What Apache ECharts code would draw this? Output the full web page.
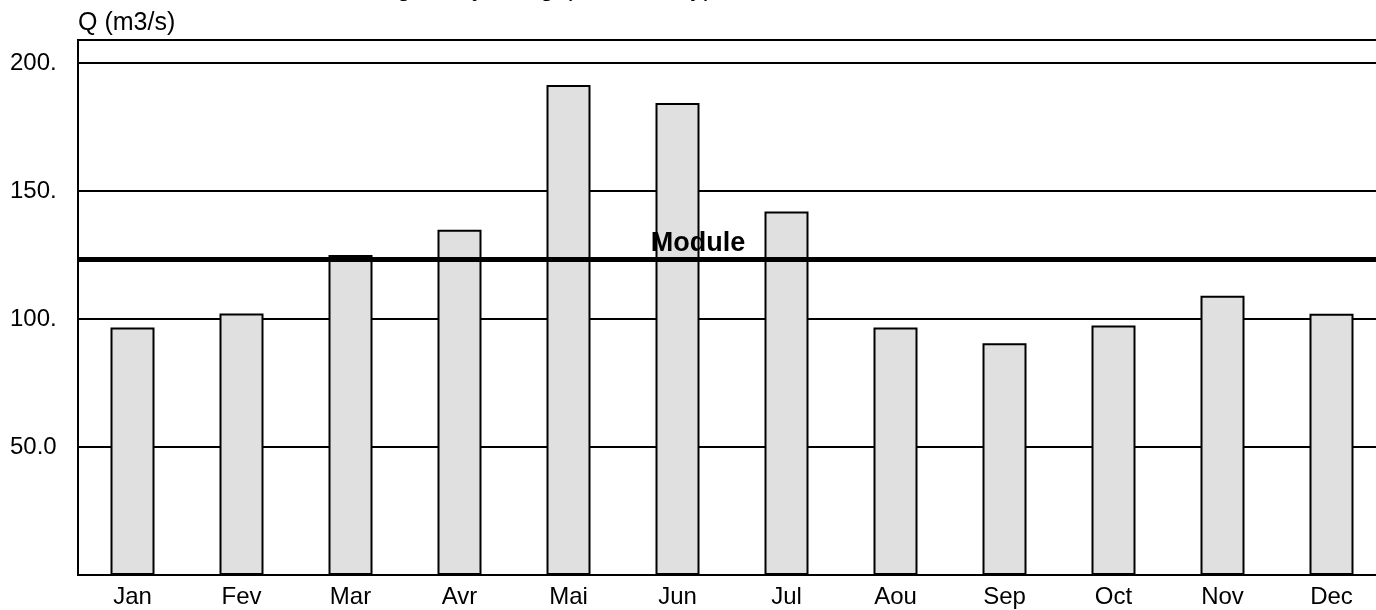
<!DOCTYPE html>
<html>
<head>
<meta charset="utf-8">
<script src="https://cdn.jsdelivr.net/npm/echarts@6/dist/echarts.min.js"></script>
<style>
html,body{margin:0;padding:0;background:#fff;}
#chart{width:1376px;height:610px;}
</style>
</head>
<body>
<div id="chart"></div>
<script>
const titleText = 'Le régime hydrologique est de type nival de transition';
const yAxisName = 'Q (m3/s)';
const months = ['Jan','Fev','Mar','Avr','Mai','Jun','Jul','Aou','Sep','Oct','Nov','Dec'];
const flows = [96.7, 102.2, 125.0, 134.9, 191.4, 184.4, 142.0, 96.7, 90.5, 97.5, 109.1, 102.1];
const moduleValue = 123.2;
const moduleLabel = 'Module';
const yTickValues = [50, 100, 150, 200];
const yTickLabels = ['50.0', '100.', '150.', '200.'];

const FONT = '"Liberation Sans", Arial, Helvetica, sans-serif';
const chart = echarts.init(document.getElementById('chart'), null, {renderer: 'canvas'});
chart.setOption({
  animation: false,
  backgroundColor: '#fff',
  textStyle: {fontFamily: FONT},
  graphic: [{
    type: 'text',
    x: 340,
    y: -23,
    style: {text: titleText, font: '25px ' + FONT, fill: '#000'}
  }],
  grid: {
    left: 78, width: 1308, top: 40, bottom: 35,
    outerBoundsMode: 'none',
    containLabel: false,
    show: true, borderColor: '#000', borderWidth: 2, backgroundColor: 'transparent'
  },
  xAxis: {
    type: 'category',
    data: months,
    axisLine: {lineStyle: {color: '#000', width: 2}},
    axisTick: {show: false},
    axisLabel: {color: '#000', fontSize: 24, fontFamily: FONT, margin: 10}
  },
  yAxis: {
    type: 'value',
    min: 0, max: 209, interval: 50,
    name: yAxisName,
    nameLocation: 'end',
    nameGap: 4,
    nameTextStyle: {color: '#000', fontSize: 25, fontFamily: FONT, align: 'left', verticalAlign: 'bottom'},
    axisLine: {show: true, lineStyle: {color: '#000', width: 2}},
    axisTick: {show: false},
    splitLine: {show: true, lineStyle: {color: '#000', width: 2}},
    axisLabel: {
      color: '#000', fontSize: 24, fontFamily: FONT, align: 'left', margin: 68,
      padding: [6, 0, 0, 0],
      formatter: function (v) {
        const i = yTickValues.indexOf(v);
        return i >= 0 ? yTickLabels[i] : '';
      }
    }
  },
  series: [{
    type: 'bar',
    data: flows,
    barWidth: 44,
    itemStyle: {color: '#e0e0e0', borderColor: '#000', borderWidth: 2},
    markLine: {
      silent: true,
      symbol: ['none', 'none'],
      z: 10,
      lineStyle: {color: '#000', width: 5, type: 'solid'},
      label: {
        show: true, position: 'insideMiddleTop', formatter: moduleLabel,
        color: '#000', fontWeight: 'bold', fontSize: 27, fontFamily: FONT,
        offset: [-34, 2]
      },
      data: [{yAxis: moduleValue}]
    }
  }]
});
</script>
</body>
</html>
